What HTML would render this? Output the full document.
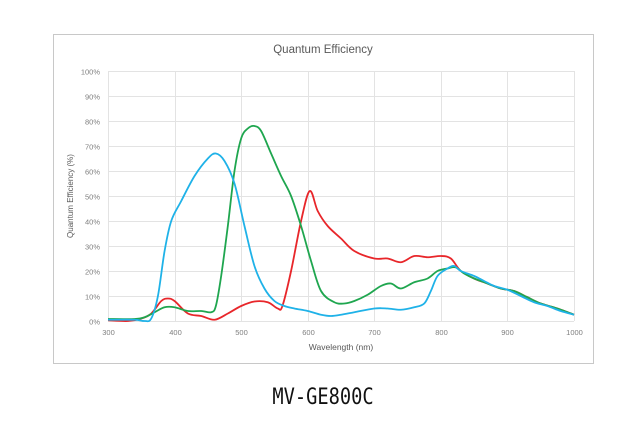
<!DOCTYPE html>
<html><head><meta charset="utf-8"><style>
html,body{margin:0;padding:0;background:#fff;width:631px;height:436px;overflow:hidden}
svg text{font-family:"Liberation Sans","DejaVu Sans",sans-serif}
</style></head><body>
<svg id="s" width="631" height="436" xmlns="http://www.w3.org/2000/svg">
<rect x="53.5" y="34.5" width="540" height="329" fill="#fff" stroke="#c8c8c8"/>
<text x="323" y="53" font-size="11.5" fill="#595959" text-anchor="middle">Quantum Efficiency</text>
<g id="grid" stroke="#e3e3e3" stroke-width="1"></g>
<g id="lab" font-size="7.5" fill="#7f7f7f"></g>
<text x="341" y="350" font-size="8.5" fill="#595959" text-anchor="middle">Wavelength (nm)</text>
<text transform="translate(73,196) rotate(-90)" font-size="8" fill="#595959" text-anchor="middle">Quantum Efficiency (%)</text>
<g id="curves" fill="none" stroke-width="1.8"></g>
<text x="323" y="404" font-size="22" fill="#111" text-anchor="middle" style="font-family:'DejaVu Sans Mono','Liberation Mono',monospace" transform="translate(323,0) scale(0.85,1) translate(-323,0)">MV-GE800C</text>
</svg>
<script>
var X=function(n){return 108+(n-300)*466/700},Y=function(p){return 321-p*2.5};
var g=document.getElementById('grid'),l=document.getElementById('lab'),ns='http://www.w3.org/2000/svg';
function el(p,t,a){var e=document.createElementNS(ns,t);for(var k in a)e.setAttribute(k,a[k]);p.appendChild(e);return e}
for(var i=0;i<=10;i++){var y=Y(i*10)+.5;el(g,'line',{x1:108,x2:574,y1:y,y2:y});var t=el(l,'text',{x:100,y:y+3,'text-anchor':'end'});t.textContent=i*10+'%';}
for(var n=300;n<=1000;n+=100){var x=Math.round(X(n))+.5;el(g,'line',{x1:x,x2:x,y1:Y(100),y2:Y(0)});var t=el(l,'text',{x:x,y:335,'text-anchor':'middle'});t.textContent=n;}
var B=[[300,.5],[340,.5],[355,0],[365,1],[375,10],[385,28],[395,40],[410,48],[430,58],[450,65],[462,67],[475,64],[490,55],[505,38],[520,22],[535,13],[550,8],[565,6],[580,5],[600,4],[620,2.5],[635,2],[650,2.5],[670,3.5],[700,5],[720,5],[740,4.5],[760,5.5],[775,7],[785,12],[795,18],[810,21],[820,22],[830,20],[850,18],[865,16],[880,14],[900,12.5],[920,10],[940,7.5],[960,6],[980,4],[1000,2.5]];
var G=[[300,.8],[340,.8],[355,1.5],[370,3.5],[385,5.5],[400,5.5],[420,4],[440,4],[455,3.5],[462,6],[470,18],[480,38],[490,60],[500,73],[510,77],[520,78],[530,76],[545,67],[560,58],[575,50],[590,38],[605,24],[620,12],[640,7.5],[655,7],[670,8],[690,10.5],[710,14],[725,15],[740,13],[760,15.5],[780,17],[795,20],[810,21],[822,21.5],[835,19],[850,17],[870,15],[890,13],[910,12],[930,9.5],[950,7],[975,5],[1000,2.5]];
var R=[[300,.3],[330,0],[350,1],[365,3],[380,8],[390,9],[400,8],[420,3],[440,2],[460,.5],[480,3],[500,6],[520,7.8],[540,7.5],[555,5],[562,6],[575,20],[590,40],[603,52],[615,44],[630,38],[650,33],[670,28],[700,25],[720,25],[740,23.5],[760,26],[780,25.5],[800,26],[815,25],[830,20],[850,17],[870,15],[890,13],[910,12],[930,9.5],[950,7],[975,5],[1000,2.5]];
function path(d){var p=d.map(function(a){return[X(a[0]),Y(a[1])]});var s='M'+p[0].join(',');
for(var i=0;i<p.length-1;i++){var p0=p[i-1]||p[i],p1=p[i],p2=p[i+1],p3=p[i+2]||p2;
s+=' C'+(p1[0]+(p2[0]-p0[0])/6)+','+(p1[1]+(p2[1]-p0[1])/6)+' '+(p2[0]-(p3[0]-p1[0])/6)+','+(p2[1]-(p3[1]-p1[1])/6)+' '+p2[0]+','+p2[1];}return s}
var c=document.getElementById('curves');
el(c,'path',{d:path(R),stroke:'#e8262a'});
el(c,'path',{d:path(G),stroke:'#1fa64f'});
el(c,'path',{d:path(B),stroke:'#1fb2e8'});
</script>
</body></html>
